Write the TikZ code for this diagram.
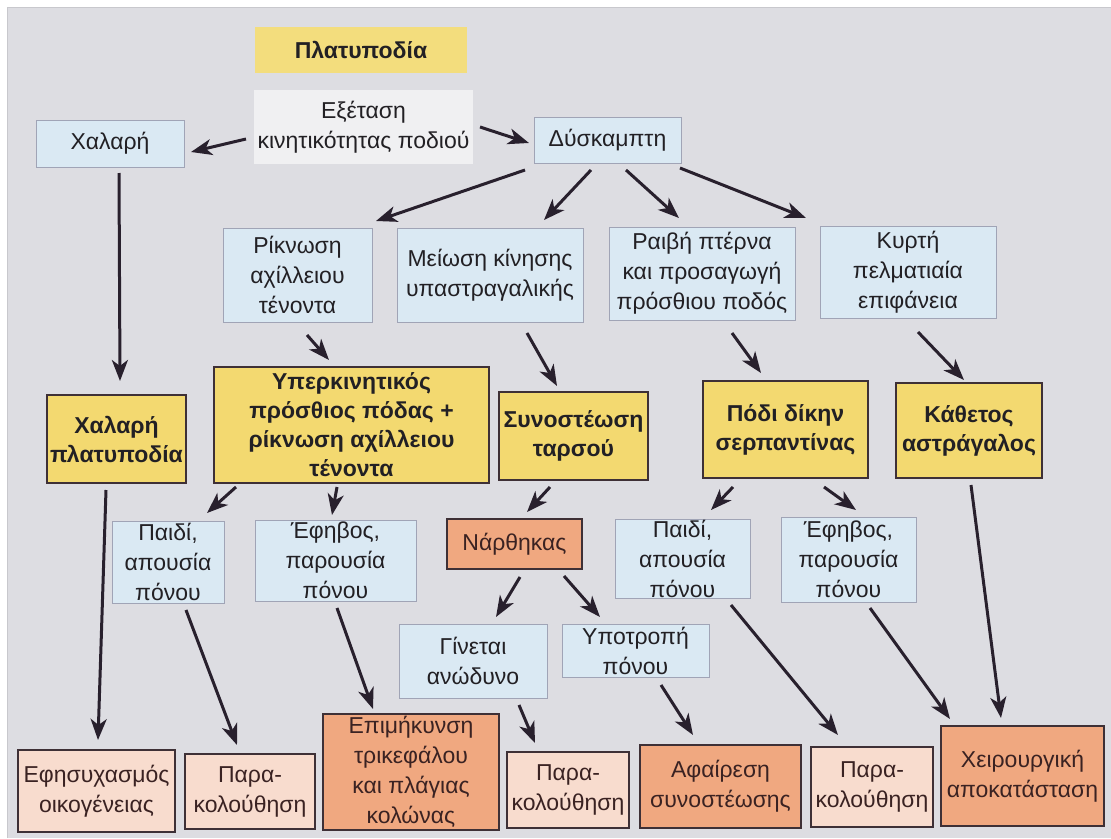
\documentclass[tikz,border=0pt]{standalone}
\usepackage{fontspec}
\setmainfont{Liberation Sans}
\usetikzlibrary{arrows.meta,calc}
\definecolor{panel}{RGB}{221,221,226}
\definecolor{panelline}{RGB}{200,200,205}
\definecolor{blueF}{RGB}{218,233,243}
\definecolor{blueD}{RGB}{160,164,182}
\definecolor{whiteF}{RGB}{240,240,242}
\definecolor{yelF}{RGB}{243,217,112}
\definecolor{yelT}{RGB}{243,221,125}
\definecolor{darkD}{RGB}{62,48,54}
\definecolor{oraF}{RGB}{240,168,128}
\definecolor{pinkF}{RGB}{248,220,206}
\definecolor{txt}{RGB}{34,32,36}
\definecolor{txtB}{RGB}{58,34,34}
\definecolor{arrC}{RGB}{40,32,45}
\begin{document}
\begin{tikzpicture}[x=1pt,y=-1pt,
  sz/.style 2 args={minimum width=#1pt, minimum height=#2pt},
  base/.style={inner sep=0pt, align=center, text=txt, font=\fontsize{23}{30}\selectfont},
  bluebox/.style={base, fill=blueF, draw=blueD, line width=0.9pt},
  whitebox/.style={base, fill=whiteF},
  titlebox/.style={base, fill=yelT, font=\bfseries\fontsize{23}{30}\selectfont},
  yelbox/.style={base, fill=yelF, draw=darkD, line width=1.6pt, font=\bfseries\fontsize{23}{29}\selectfont},
  orabox/.style={base, fill=oraF, draw=darkD, line width=1.6pt, text=txtB},
  pinkbox/.style={base, fill=pinkF, draw=darkD, line width=1.6pt, text=txtB},
  arr/.style={draw=arrC, line width=3pt, -{Stealth[length=21pt,width=16pt,inset=6pt]}}
]
\useasboundingbox (0,0) rectangle (1111,838);
\fill[white] (0,0) rectangle (1111,838);
\fill[panel] (7,7) rectangle (1111,838);
\draw[panelline, line width=1pt] (7,838) -- (7,7) -- (1111,7);

% top
\node[titlebox, sz={212}{46}] (plat) at (361,50) {Πλατυποδία};
\node[whitebox, sz={219}{74}] (exet) at (363.5,127) {Εξέταση\\κινητικότητας ποδιού};
\node[bluebox, sz={148}{47}] (chal) at (110,143.5) {Χαλαρή};
\node[bluebox, sz={147}{46}] (dys) at (607.5,140) {Δύσκαμπτη};

% second row
\node[bluebox, sz={149}{94}] (rik) at (297.5,275) {Ρίκνωση\\αχίλλειου\\τένοντα};
\node[bluebox, sz={186}{94}] (meio) at (490,275) {Μείωση κίνησης\\υπαστραγαλικής};
\node[bluebox, sz={186}{93}] (raiv) at (702,273.5) {Ραιβή πτέρνα\\και προσαγωγή\\πρόσθιου ποδός};
\node[bluebox, sz={176}{92}] (kyrt) at (908,272) {Κυρτή\\πελματιαία\\επιφάνεια};

% yellow row
\node[yelbox, sz={139}{88}] (chalpl) at (116.5,439) {Χαλαρή\\πλατυποδία};
\node[yelbox, sz={275}{116}] (yperk) at (351.5,425) {Υπερκινητικός\\πρόσθιος πόδας +\\ρίκνωση αχίλλειου\\τένοντα};
\node[yelbox, sz={149}{88}] (synost) at (573.5,436) {Συνοστέωση\\ταρσού};
\node[yelbox, sz={165}{97}] (podi) at (785.5,429.5) {Πόδι δίκην\\σερπαντίνας};
\node[yelbox, sz={146}{95}] (kath) at (969,430.5) {Κάθετος\\αστράγαλος};

% fourth row
\node[bluebox, sz={112}{82}] (paidiL) at (168,562) {Παιδί,\\απουσία\\πόνου};
\node[bluebox, sz={161}{81}] (efivL) at (335.5,560.5) {Έφηβος,\\παρουσία\\πόνου};
\node[orabox, sz={135}{50}] (narth) at (514.5,544) {Νάρθηκας};
\node[bluebox, sz={135}{79}] (paidiR) at (682.5,558.5) {Παιδί,\\απουσία\\πόνου};
\node[bluebox, sz={135}{85}] (efivR) at (848.5,559.5) {Έφηβος,\\παρουσία\\πόνου};

% fifth row
\node[bluebox, sz={148}{74}] (ginet) at (473,661) {Γίνεται\\ανώδυνο};
\node[bluebox, sz={147}{53}] (ypotr) at (635.5,650.5) {Υποτροπή\\πόνου};

% bottom row
\node[pinkbox, sz={157}{82}] (efis) at (96.5,791) {Εφησυχασμός\\οικογένειας};
\node[pinkbox, sz={130}{75}] (par1) at (250,791.5) {Παρα-\\κολούθηση};
\node[orabox, sz={176}{116}] (epim) at (411,772) {Επιμήκυνση\\τρικεφάλου\\και πλάγιας\\κολώνας};
\node[pinkbox, sz={122}{76}] (par2) at (568,790) {Παρα-\\κολούθηση};
\node[orabox, sz={161}{83}] (afair) at (720.5,786.5) {Αφαίρεση\\συνοστέωσης};
\node[pinkbox, sz={122}{80}] (par3) at (872,787) {Παρα-\\κολούθηση};
\node[orabox, sz={163}{100}] (cheir) at (1022.5,776) {Χειρουργική\\αποκατάσταση};

% arrows
\draw[arr] ($(exet)+(-117.5,12)$) -- ($(chal)+(81,8.5)$);
\draw[arr] ($(exet)+(116.5,0)$) -- ($(dys)+(-78.5,3)$);
\draw[arr] ($(dys)+(-82.5,30)$) -- ($(rik)+(78.5,-54)$);
\draw[arr] ($(dys)+(-16.5,30)$) -- ($(meio)+(54,-55)$);
\draw[arr] ($(dys)+(18.5,30)$) -- ($(raiv)+(-23,-55.5)$);
\draw[arr] ($(dys)+(72.5,28)$) -- ($(kyrt)+(-102,-54)$);
\draw[arr] ($(chal)+(9,29.5)$) -- ($(chalpl)+(3.5,-58)$);
\draw[arr] ($(rik)+(9.5,60)$) -- ($(yperk)+(-22.5,-65)$);
\draw[arr] ($(meio)+(37,58)$) -- ($(synost)+(-16.5,-50)$);
\draw[arr] ($(raiv)+(30,59.5)$) -- ($(podi)+(-24.5,-56.5)$);
\draw[arr] ($(kyrt)+(10,60)$) -- ($(kath)+(-5,-50.5)$);
\draw[arr] ($(yperk)+(-115.5,62)$) -- ($(paidiL)+(39,-49)$);
\draw[arr] ($(yperk)+(-14.5,62)$) -- ($(efivL)+(-3.5,-45.5)$);
\draw[arr] ($(synost)+(-23.5,51)$) -- ($(narth)+(12.5,-32)$);
\draw[arr] ($(podi)+(-52.5,57.5)$) -- ($(paidiR)+(28.5,-48.5)$);
\draw[arr] ($(podi)+(38.5,57.5)$) -- ($(efivR)+(7.5,-49.5)$);
\draw[arr] ($(narth)+(5.5,33)$) -- ($(ginet)+(23,-44)$);
\draw[arr] ($(narth)+(49.5,32)$) -- ($(ypotr)+(-35.5,-33.5)$);
\draw[arr] ($(chalpl)+(-10.5,51)$) -- ($(efis)+(1.5,-51)$);
\draw[arr] ($(paidiL)+(18,48)$) -- ($(par1)+(-13,-46.5)$);
\draw[arr] ($(efivL)+(1.5,47.5)$) -- ($(epim)+(-38,-63)$);
\draw[arr] ($(ginet)+(46,44)$) -- ($(par2)+(-33,-47)$);
\draw[arr] ($(ypotr)+(25.5,34.5)$) -- ($(afair)+(-27.5,-51.5)$);
\draw[arr] ($(paidiR)+(48.5,46.5)$) -- ($(par3)+(-34,-52)$);
\draw[arr] ($(efivR)+(21.5,48.5)$) -- ($(cheir)+(-72.5,-57)$);
\draw[arr] ($(kath)+(2,54.5)$) -- ($(cheir)+(-21.5,-58)$);
\end{tikzpicture}
\end{document}
